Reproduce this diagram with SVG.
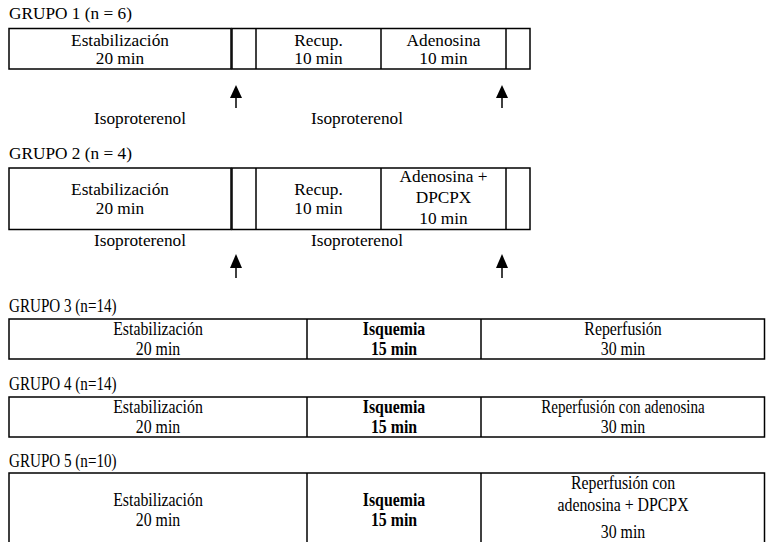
<svg xmlns="http://www.w3.org/2000/svg" width="766" height="542" viewBox="0 0 766 542">
<style>
.bg{fill:#fff}
.bx{fill:none;stroke:#000;stroke-width:1.5}
.ln{stroke:#000;stroke-width:1.5}
.a{stroke:#000;stroke-width:1.5}
.ah{fill:#000}
.t1{font-family:"Liberation Serif","Times New Roman",serif;font-size:16px;fill:#000}
.t3{font-family:"Liberation Serif","Times New Roman",serif;font-size:18px;fill:#000}
.c{text-anchor:middle}
.b{font-weight:bold}
</style>
<rect class="bg" x="0" y="0" width="766" height="542"/>

<g id="grupo1">
  <text class="t1" transform="translate(9,19) scale(1.08,1)">GRUPO 1 (n = 6)</text>
  <rect class="bx" x="9" y="28.5" width="222" height="40.5"/>
  <rect class="bx" x="232" y="28.5" width="298" height="40.5"/>
  <line class="ln" x1="256" y1="28.5" x2="256" y2="69"/>
  <line class="ln" x1="381" y1="28.5" x2="381" y2="69"/>
  <line class="ln" x1="506" y1="28.5" x2="506" y2="69"/>
  <text class="t1 c" transform="translate(120,46) scale(1.08,1)">Estabilización</text>
  <text class="t1 c" transform="translate(120,64) scale(1.08,1)">20 min</text>
  <text class="t1 c" transform="translate(318.5,46) scale(1.08,1)">Recup.</text>
  <text class="t1 c" transform="translate(318.5,64) scale(1.08,1)">10 min</text>
  <text class="t1 c" transform="translate(443.5,46) scale(1.08,1)">Adenosina</text>
  <text class="t1 c" transform="translate(443.5,64) scale(1.08,1)">10 min</text>
  <text class="t1 c" transform="translate(140,124) scale(1.08,1)">Isoproterenol</text>
  <text class="t1 c" transform="translate(357,124) scale(1.08,1)">Isoproterenol</text>
</g>

<g id="grupo2">
  <text class="t1" transform="translate(9,159) scale(1.08,1)">GRUPO 2 (n = 4)</text>
  <rect class="bx" x="9" y="168" width="222" height="61.5"/>
  <rect class="bx" x="232" y="168" width="298" height="61.5"/>
  <line class="ln" x1="256" y1="168" x2="256" y2="229.5"/>
  <line class="ln" x1="381" y1="168" x2="381" y2="229.5"/>
  <line class="ln" x1="506" y1="168" x2="506" y2="229.5"/>
  <text class="t1 c" transform="translate(120,195) scale(1.08,1)">Estabilización</text>
  <text class="t1 c" transform="translate(120,214) scale(1.08,1)">20 min</text>
  <text class="t1 c" transform="translate(318.5,195) scale(1.08,1)">Recup.</text>
  <text class="t1 c" transform="translate(318.5,214) scale(1.08,1)">10 min</text>
  <text class="t1 c" transform="translate(443.5,182) scale(1.08,1)">Adenosina +</text>
  <text class="t1 c" transform="translate(443.5,203) scale(1.08,1)">DPCPX</text>
  <text class="t1 c" transform="translate(443.5,224) scale(1.08,1)">10 min</text>
  <text class="t1 c" transform="translate(140,246) scale(1.08,1)">Isoproterenol</text>
  <text class="t1 c" transform="translate(357,246) scale(1.08,1)">Isoproterenol</text>
</g>

<g id="grupo3">
  <text class="t3" transform="translate(9,312) scale(0.84,1)">GRUPO 3 (n=14)</text>
  <rect class="bx" x="9" y="319" width="755.5" height="40"/>
  <line class="ln" x1="307" y1="319" x2="307" y2="359"/>
  <line class="ln" x1="481" y1="319" x2="481" y2="359"/>
  <text class="t3 c" transform="translate(158,335) scale(0.88,1)">Estabilización</text>
  <text class="t3 c" transform="translate(158,355) scale(0.88,1)">20 min</text>
  <text class="t3 c b" transform="translate(394,335) scale(0.88,1)">Isquemia</text>
  <text class="t3 c b" transform="translate(394,355) scale(0.88,1)">15 min</text>
  <text class="t3 c" transform="translate(623,335) scale(0.88,1)">Reperfusión</text>
  <text class="t3 c" transform="translate(623,355) scale(0.88,1)">30 min</text>
</g>

<g id="grupo4">
  <text class="t3" transform="translate(9,390) scale(0.84,1)">GRUPO 4 (n=14)</text>
  <rect class="bx" x="9" y="397" width="755.5" height="40"/>
  <line class="ln" x1="307" y1="397" x2="307" y2="437"/>
  <line class="ln" x1="481" y1="397" x2="481" y2="437"/>
  <text class="t3 c" transform="translate(158,413) scale(0.88,1)">Estabilización</text>
  <text class="t3 c" transform="translate(158,433) scale(0.88,1)">20 min</text>
  <text class="t3 c b" transform="translate(394,413) scale(0.88,1)">Isquemia</text>
  <text class="t3 c b" transform="translate(394,433) scale(0.88,1)">15 min</text>
  <text class="t3 c" transform="translate(623,413) scale(0.84,1)">Reperfusión con adenosina</text>
  <text class="t3 c" transform="translate(623,433) scale(0.88,1)">30 min</text>
</g>

<g id="grupo5">
  <text class="t3" transform="translate(9,467) scale(0.84,1)">GRUPO 5 (n=10)</text>
  <rect class="bx" x="9" y="473" width="755.5" height="90"/>
  <line class="ln" x1="307" y1="473" x2="307" y2="563"/>
  <line class="ln" x1="481" y1="473" x2="481" y2="563"/>
  <text class="t3 c" transform="translate(158,506) scale(0.88,1)">Estabilización</text>
  <text class="t3 c" transform="translate(158,526) scale(0.88,1)">20 min</text>
  <text class="t3 c b" transform="translate(394,506) scale(0.88,1)">Isquemia</text>
  <text class="t3 c b" transform="translate(394,526) scale(0.88,1)">15 min</text>
  <text class="t3 c" transform="translate(623,489) scale(0.88,1)">Reperfusión con</text>
  <text class="t3 c" transform="translate(623,511) scale(0.88,1)">adenosina + DPCPX</text>
  <text class="t3 c" transform="translate(623,538) scale(0.88,1)">30 min</text>
</g>

<g id="connectors">
  <line class="a" x1="236" y1="96" x2="236" y2="108"/>
  <polygon class="ah" points="236,85 230,98 242,98"/>
  <line class="a" x1="502" y1="96" x2="502" y2="108"/>
  <polygon class="ah" points="502,85 496,98 508,98"/>
  <line class="a" x1="236" y1="266" x2="236" y2="278"/>
  <polygon class="ah" points="236,254 230,268 242,268"/>
  <line class="a" x1="502" y1="266" x2="502" y2="278"/>
  <polygon class="ah" points="502,254 496,268 508,268"/>
</g>
</svg>
